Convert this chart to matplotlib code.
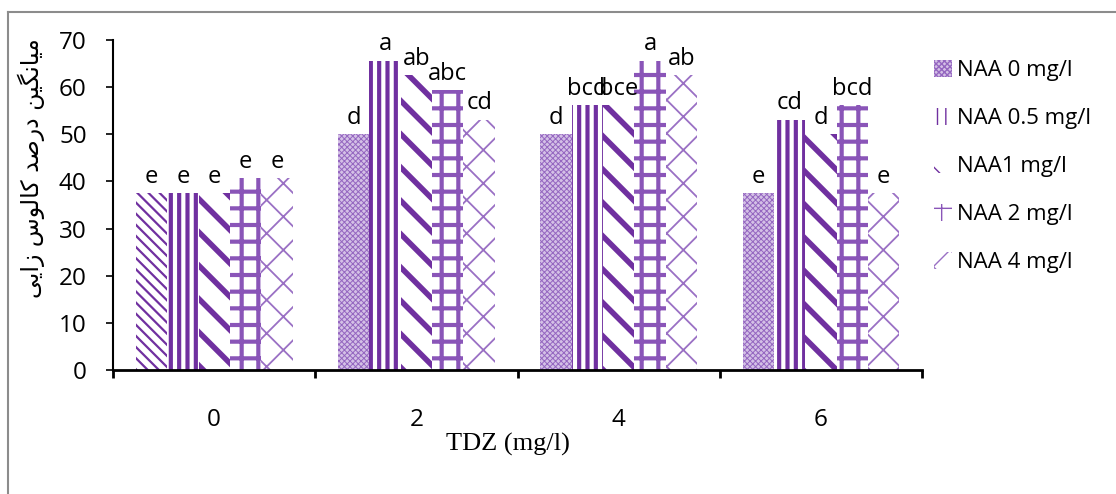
import numpy as np
import matplotlib
matplotlib.use('Agg')
import matplotlib.pyplot as plt
from matplotlib.lines import Line2D
from matplotlib.patches import Patch

# data
tdz = ['0', '2', '4', '6']
series = ['NAA 0 mg/l', 'NAA 0.5 mg/l', 'NAA1 mg/l', 'NAA 2 mg/l', 'NAA 4 mg/l']
naa_0 = [37.5, 50.0, 50.0, 37.5]
naa_05 = [37.5, 65.625, 56.25, 53.125]
naa_1 = [37.5, 62.5, 56.25, 50.0]
naa_2 = [40.625, 59.375, 65.625, 56.25]
naa_4 = [40.625, 53.125, 62.5, 37.5]
letters_0 = ['e', 'd', 'd', 'e']
letters_05 = ['e', 'a', 'bcd', 'cd']
letters_1 = ['e', 'ab', 'bce', 'd']
letters_2 = ['e', 'abc', 'a', 'bcd']
letters_4 = ['e', 'cd', 'ab', 'e']

values = [naa_0, naa_05, naa_1, naa_2, naa_4]
letters = [letters_0, letters_05, letters_1, letters_2, letters_4]

purple = '#7030A0'
styles = [
    dict(face='#d4c0e6', hatch='xxxxxx', lw=0.7, color='#9466c0'),
    dict(face='white', hatch='||', lw=3.0, color=purple),
    dict(face='white', hatch='\\', lw=4.0, color=purple),
    dict(face='white', hatch='+', lw=3.0, color='#8a55b8'),
    dict(face='white', hatch='x', lw=1.3, color='#9a70c4'),
]

plt.rcParams['font.family'] = ['Open Sans', 'DejaVu Sans']

fig = plt.figure(figsize=(11.16, 4.94), dpi=100)
ax = fig.add_axes([0.1013, 0.251, 0.7249, 0.668])

x = np.arange(len(tdz))
w = 0.155
handles = []
for i, vals in enumerate(values):
    st = styles[i]
    with plt.rc_context({'hatch.linewidth': st['lw']}):
        bars = ax.bar(x + (i - 2) * w, vals, w, facecolor=st['face'],
                      edgecolor=st['color'], hatch=st['hatch'], linewidth=0)
        handles.append(Patch(facecolor=st['face'], edgecolor=st['color'],
                             hatch=st['hatch'], linewidth=0, label=series[i]))
    for b, lab in zip(bars, letters[i]):
        ax.annotate(lab, (b.get_x() + b.get_width() / 2, b.get_height()),
                    xytext=(0, 3), textcoords='offset points',
                    ha='center', va='bottom', fontsize=17)
    if i == 0:
        # first bar of the TDZ 0 group is drawn with thin diagonals
        with plt.rc_context({'hatch.linewidth': 1.6}):
            bars[0].set_facecolor('white')
            bars[0].set_edgecolor(purple)
            bars[0].set_hatch('\\\\\\')
            try:
                bars[0].set_hatch_linewidth(1.6)
            except AttributeError:
                pass

ax.set_ylim(0, 70)
ax.set_xlim(-0.5, 3.5)
ax.set_yticks(range(0, 71, 10))
ax.set_xticks(np.arange(-0.5, 4, 1))
ax.set_xticklabels([])
ax.set_xticks(x, minor=True)
ax.set_xticklabels(tdz, minor=True)
ax.tick_params(axis='x', which='minor', length=0, pad=27, labelsize=17.5)
ax.tick_params(axis='x', which='major', length=6, width=2, direction='out')
ax.tick_params(axis='y', length=5, width=1.2, labelsize=17.5, pad=14)
ax.spines['top'].set_visible(False)
ax.spines['right'].set_visible(False)
ax.spines['left'].set_linewidth(1.5)
ax.spines['bottom'].set_linewidth(2)

# Persian y label, glyphs in visual order with presentation forms
ylab = ('\ufef0\ufef3\ufe8d\ufeaf' + ' ' + '\ufeb1\ufeee\ufedf\ufe8e\ufb90'
        + ' ' + '\ufeaa\ufebb\ufead\ufea9' + ' '
        + '\ufee6\ufef4\ufb95\ufee7\ufe8e\ufef4\ufee3')
fig.text(0.028, 0.66, ylab, rotation=90, ha='center', va='center',
         fontsize=17, family=['DejaVu Sans'])

fig.text(0.455, 0.1, 'TDZ (mg/l)', ha='center', va='center',
         fontsize=19, family=['Liberation Serif'])

ax.legend(handles=handles, loc='upper left', bbox_to_anchor=(0.99, 1.0),
          frameon=False, fontsize=16, handlelength=0.8, handleheight=0.8,
          labelspacing=1.2, handletextpad=0.25)

# thin grey frame on the top and left edges
fig.add_artist(Line2D([0.0075, 1.0], [0.975, 0.975], color='#8c8c8c', lw=1.5))
fig.add_artist(Line2D([0.0075, 0.0075], [0.0, 0.975], color='#8c8c8c', lw=1.5))

fig.savefig('out.png', dpi=100)
